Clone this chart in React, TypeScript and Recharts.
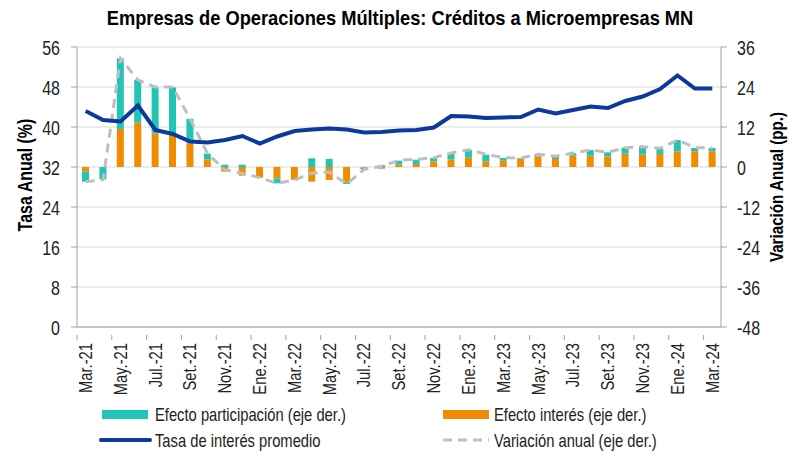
import React from 'react';
import { ComposedChart, Bar, Line, XAxis, YAxis, CartesianGrid } from 'recharts';

const months = ['Mar.-21','Abr.-21','May.-21','Jun.-21','Jul.-21','Ago.-21','Set.-21','Oct.-21','Nov.-21','Dic.-21','Ene.-22','Feb.-22','Mar.-22','Abr.-22','May.-22','Jun.-22','Jul.-22','Ago.-22','Set.-22','Oct.-22','Nov.-22','Dic.-22','Ene.-23','Feb.-23','Mar.-23','Abr.-23','May.-23','Jun.-23','Jul.-23','Ago.-23','Set.-23','Oct.-23','Nov.-23','Dic.-23','Ene.-24','Feb.-24','Mar.-24'];
const tasa = [43.2,41.4,41.1,44.3,39.4,38.6,37.1,36.9,37.4,38.2,36.7,38.1,39.2,39.5,39.7,39.5,38.9,39.0,39.3,39.4,39.9,42.2,42.1,41.8,41.9,42.0,43.5,42.7,43.4,44.1,43.8,45.2,46.1,47.6,50.3,47.7,47.7];
const efectoInteres = [-1.4,0,11.4,13.3,10.1,9.6,7.1,2.3,-1.4,-2.6,-3.2,-3.4,-3.7,-4.4,-3.9,-4.7,-0.2,0.6,0.8,0.9,1.7,2.3,2.8,1.7,1.9,2.5,3.2,2.4,3.4,3.4,3.2,4.0,3.8,3.9,4.7,4.7,4.7];
const efectoParticipacion = [-3.0,-3.7,21.2,12.8,13.8,14.3,7.3,1.7,0.7,0.7,0,-1.5,-0.2,2.6,2.4,-0.4,-0.5,-0.5,1.1,1.3,1.0,1.8,2.3,2.0,0.8,0.2,0.6,0.7,0.7,1.7,1.2,1.8,2.3,1.5,3.4,1.0,1.0];
const variacion = [-4.4,-3.8,32.6,26.1,24.0,24.0,14.4,4.0,-0.8,-1.9,-3.2,-4.9,-3.9,-1.8,-1.5,-5.1,-0.7,0.2,2.0,2.3,2.8,4.2,5.2,3.8,2.8,2.7,3.8,3.2,4.2,5.1,4.4,5.8,6.1,5.6,8.1,5.8,5.8];
const leftTicks = [0, 8, 16, 24, 32, 40, 48, 56];
const rightTicks = [-48, -36, -24, -12, 0, 12, 24, 36];

const data = months.map((m, i) => ({
  m,
  tasa: tasa[i],
  interes: efectoInteres[i],
  participacion: efectoParticipacion[i],
  variacion: variacion[i],
}));

const FONT = "'Liberation Sans', Arial, sans-serif";
const SX = 0.82;
const W = 789;
const H = 453;
const PLOT_LEFT = 77;
const PLOT_RIGHT = 721;
const BAND = (PLOT_RIGHT - PLOT_LEFT) / months.length;

const TEAL = '#20C5B5';
const ORANGE = '#F08C00';
const BLUE = '#0B3A9C';
const GRAY = '#BFBFBF';
const AXIS = '#A0A0A0';

type NTProps = {
  x: number;
  y: number;
  rotate?: number;
  anchor?: 'start' | 'middle' | 'end';
  size: number;
  bold?: boolean;
  fill?: string;
  sx?: number;
  children: React.ReactNode;
};

const NText = ({ x, y, rotate = 0, anchor = 'start', size, bold = false, fill = '#222', sx = SX, children }: NTProps) => (
  <text
    transform={`translate(${x}, ${y}) rotate(${rotate}) scale(${sx}, 1)`}
    x={0}
    y={0}
    dy="0.35em"
    textAnchor={anchor}
    fontFamily={FONT}
    fontSize={size}
    fontWeight={bold ? 'bold' : 'normal'}
    fill={fill}
  >
    {children}
  </text>
);

const XTick = (props: any) => {
  const { x, y, payload } = props;
  const idx = payload.index;
  if (idx % 2 !== 0) return <g />;
  return (
    <g>
      <line x1={x - BAND / 2} x2={x - BAND / 2} y1={y} y2={y + 5} stroke={AXIS} strokeWidth={1} />
      <NText x={x} y={y + 8} rotate={-90} anchor="end" size={18}>
        {payload.value}
      </NText>
    </g>
  );
};

const LeftTick = (props: any) => {
  const { x, y, payload } = props;
  return (
    <NText x={x} y={y + 1} anchor="end" size={19.5}>
      {payload.value}
    </NText>
  );
};

const RightTick = (props: any) => {
  const { x, y, payload } = props;
  return (
    <NText x={x} y={y + 1} anchor="start" size={19.5}>
      {payload.value}
    </NText>
  );
};

export default function App() {
  return (
    <div style={{ position: 'absolute', left: 0, top: 0, width: W, height: H, background: '#fff' }}>
      <ComposedChart
        width={W}
        height={H}
        data={data}
        stackOffset="sign"
        margin={{ top: 47, right: 0, bottom: 0, left: 0 }}
      >
        <CartesianGrid yAxisId="left" vertical={false} stroke="#D9D9D9" strokeWidth={1} />
        <XAxis
          dataKey="m"
          xAxisId={0}
          interval={0}
          height={126}
          tickLine={false}
          axisLine={{ stroke: AXIS, strokeWidth: 1 }}
          tick={<XTick />}
        />
        <YAxis
          yAxisId="left"
          orientation="left"
          width={77}
          domain={[0, 56]}
          ticks={leftTicks}
          interval={0}
          tickSize={6}
          tickMargin={11}
          axisLine={{ stroke: AXIS, strokeWidth: 1 }}
          tickLine={{ stroke: AXIS }}
          tick={<LeftTick />}
        />
        <YAxis
          yAxisId="right"
          orientation="right"
          width={68}
          domain={[-48, 36]}
          ticks={rightTicks}
          interval={0}
          tickSize={6}
          tickMargin={10}
          axisLine={{ stroke: AXIS, strokeWidth: 1 }}
          tickLine={{ stroke: AXIS }}
          tick={<RightTick />}
        />
        <Bar yAxisId="right" dataKey="interes" stackId="s" fill={ORANGE} barSize={7} isAnimationActive={false} />
        <Bar yAxisId="right" dataKey="participacion" stackId="s" fill={TEAL} barSize={7} isAnimationActive={false} />
        <Line
          yAxisId="right"
          dataKey="variacion"
          type="linear"
          stroke={GRAY}
          strokeWidth={3}
          strokeDasharray="9 6"
          dot={false}
          isAnimationActive={false}
        />
        <Line
          yAxisId="left"
          dataKey="tasa"
          type="linear"
          stroke={BLUE}
          strokeWidth={4}
          dot={false}
          isAnimationActive={false}
        />
      </ComposedChart>
      <svg width={W} height={H} style={{ position: 'absolute', left: 0, top: 0, pointerEvents: 'none' }}>
        <NText x={400} y={18} anchor="middle" size={21} sx={0.87} bold fill="#000">
          Empresas de Operaciones Múltiples: Créditos a Microempresas MN
        </NText>
        <NText x={25} y={175} rotate={-90} anchor="middle" size={19.5} bold fill="#000">
          Tasa Anual (%)
        </NText>
        <NText x={777} y={187} rotate={-90} anchor="middle" size={18.5} bold fill="#000">
          Variación Anual (pp.)
        </NText>
        <rect x={102} y={410} width={46} height={9} fill={TEAL} />
        <NText x={155} y={415} size={18}>Efecto participación (eje der.)</NText>
        <rect x={443} y={410} width={46} height={9} fill={ORANGE} />
        <NText x={494} y={415} size={18}>Efecto interés (eje der.)</NText>
        <line x1={101} x2={150} y1={440} y2={440} stroke={BLUE} strokeWidth={4} strokeLinecap="round" />
        <NText x={155} y={441} size={18}>Tasa de interés promedio</NText>
        <line x1={443} x2={489} y1={440} y2={440} stroke={GRAY} strokeWidth={3} strokeDasharray="9 6" />
        <NText x={494} y={441} size={18}>Variación anual (eje der.)</NText>
      </svg>
    </div>
  );
}
